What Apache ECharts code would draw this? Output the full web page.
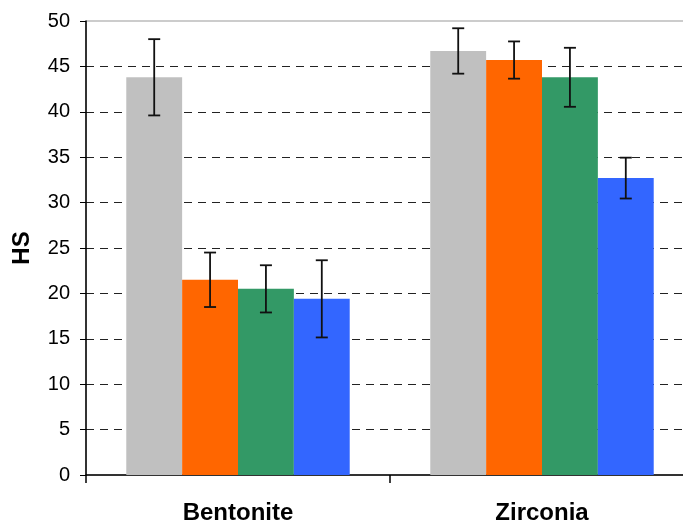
<!DOCTYPE html>
<html>
<head>
<meta charset="utf-8">
<script src="https://cdn.jsdelivr.net/npm/echarts@6/dist/echarts.min.js"></script>
<style>html,body{margin:0;padding:0;background:#fff}#c{width:683px;height:524px}</style>
</head>
<body>
<div id="c"></div>
<script>
const categories = ['Bentonite', 'Zirconia'];
const seriesNames = ['Series 1', 'Series 2', 'Series 3', 'Series 4'];
const s1 = [43.8, 46.7];
const s2 = [21.5, 45.7];
const s3 = [20.5, 43.8];
const s4 = [19.4, 32.7];
const e1 = [4.2, 2.5];
const e2 = [3.0, 2.05];
const e3 = [2.6, 3.25];
const e4 = [4.25, 2.25];
const yTicks = [0, 5, 10, 15, 20, 25, 30, 35, 40, 45, 50];
const colors = ['#C0C0C0', '#FF6600', '#339966', '#3366FF'];

const values = [s1, s2, s3, s4];
const errors = [e1, e2, e3, e4];
const catGap = 0.265;
const nSeries = values.length;

const barSeries = values.map((v, i) => ({
  name: seriesNames[i],
  type: 'bar',
  data: v,
  barGap: '0%',
  barCategoryGap: (catGap * 100) + '%',
  itemStyle: { color: colors[i] },
  z: 2
}));

const errSeries = values.map((v, i) => ({
  name: seriesNames[i] + ' error',
  type: 'custom',
  z: 5,
  data: v.map((val, j) => [j, val - errors[i][j], val + errors[i][j]]),
  renderItem: function (params, api) {
    const cat = api.value(0);
    const lo = api.coord([cat, api.value(1)]);
    const hi = api.coord([cat, api.value(2)]);
    const band = api.size([1, 0])[0];
    const bw = band * (1 - catGap) / nSeries;
    const x = lo[0] + (i - (nSeries - 1) / 2) * bw;
    const cap = 6;
    const style = { stroke: '#111', lineWidth: 1.8, fill: null };
    return {
      type: 'group',
      children: [
        { type: 'line', shape: { x1: x, y1: lo[1], x2: x, y2: hi[1] }, style },
        { type: 'line', shape: { x1: x - cap, y1: lo[1], x2: x + cap, y2: lo[1] }, style },
        { type: 'line', shape: { x1: x - cap, y1: hi[1], x2: x + cap, y2: hi[1] }, style }
      ]
    };
  }
}));

const chart = echarts.init(document.getElementById('c'));
chart.setOption({
  animation: false,
  grid: { left: 86, top: 21, width: 608, bottom: 49, outerBoundsMode: 'none', containLabel: false, show: true, borderColor: '#999', borderWidth: 1, backgroundColor: 'transparent' },
  xAxis: {
    type: 'category',
    data: categories,
    axisLine: { lineStyle: { color: '#000', width: 1.5 } },
    axisTick: { show: true, length: 8, lineStyle: { color: '#000', width: 1.5 } },
    axisLabel: { color: '#000', fontFamily: 'Liberation Sans, Arial', fontWeight: 'bold', fontSize: 24, margin: 26 }
  },
  yAxis: {
    type: 'value',
    min: yTicks[0],
    max: yTicks[yTicks.length - 1],
    interval: yTicks[1] - yTicks[0],
    name: 'HS',
    nameLocation: 'middle',
    nameGap: 52,
    nameTextStyle: { color: '#000', fontFamily: 'Liberation Sans, Arial', fontWeight: 'bold', fontSize: 24 },
    axisLine: { show: true, lineStyle: { color: '#000', width: 1.5 } },
    axisTick: { show: true, length: 6, lineStyle: { color: '#000', width: 1 } },
    axisLabel: { color: '#000', fontFamily: 'Liberation Sans, Arial', fontSize: 20, margin: 16 },
    splitLine: { show: true, showMinLine: false, showMaxLine: false, lineStyle: { color: '#222', type: [8, 6], width: 1 } }
  },
  series: barSeries.concat(errSeries)
});
</script>
</body>
</html>
